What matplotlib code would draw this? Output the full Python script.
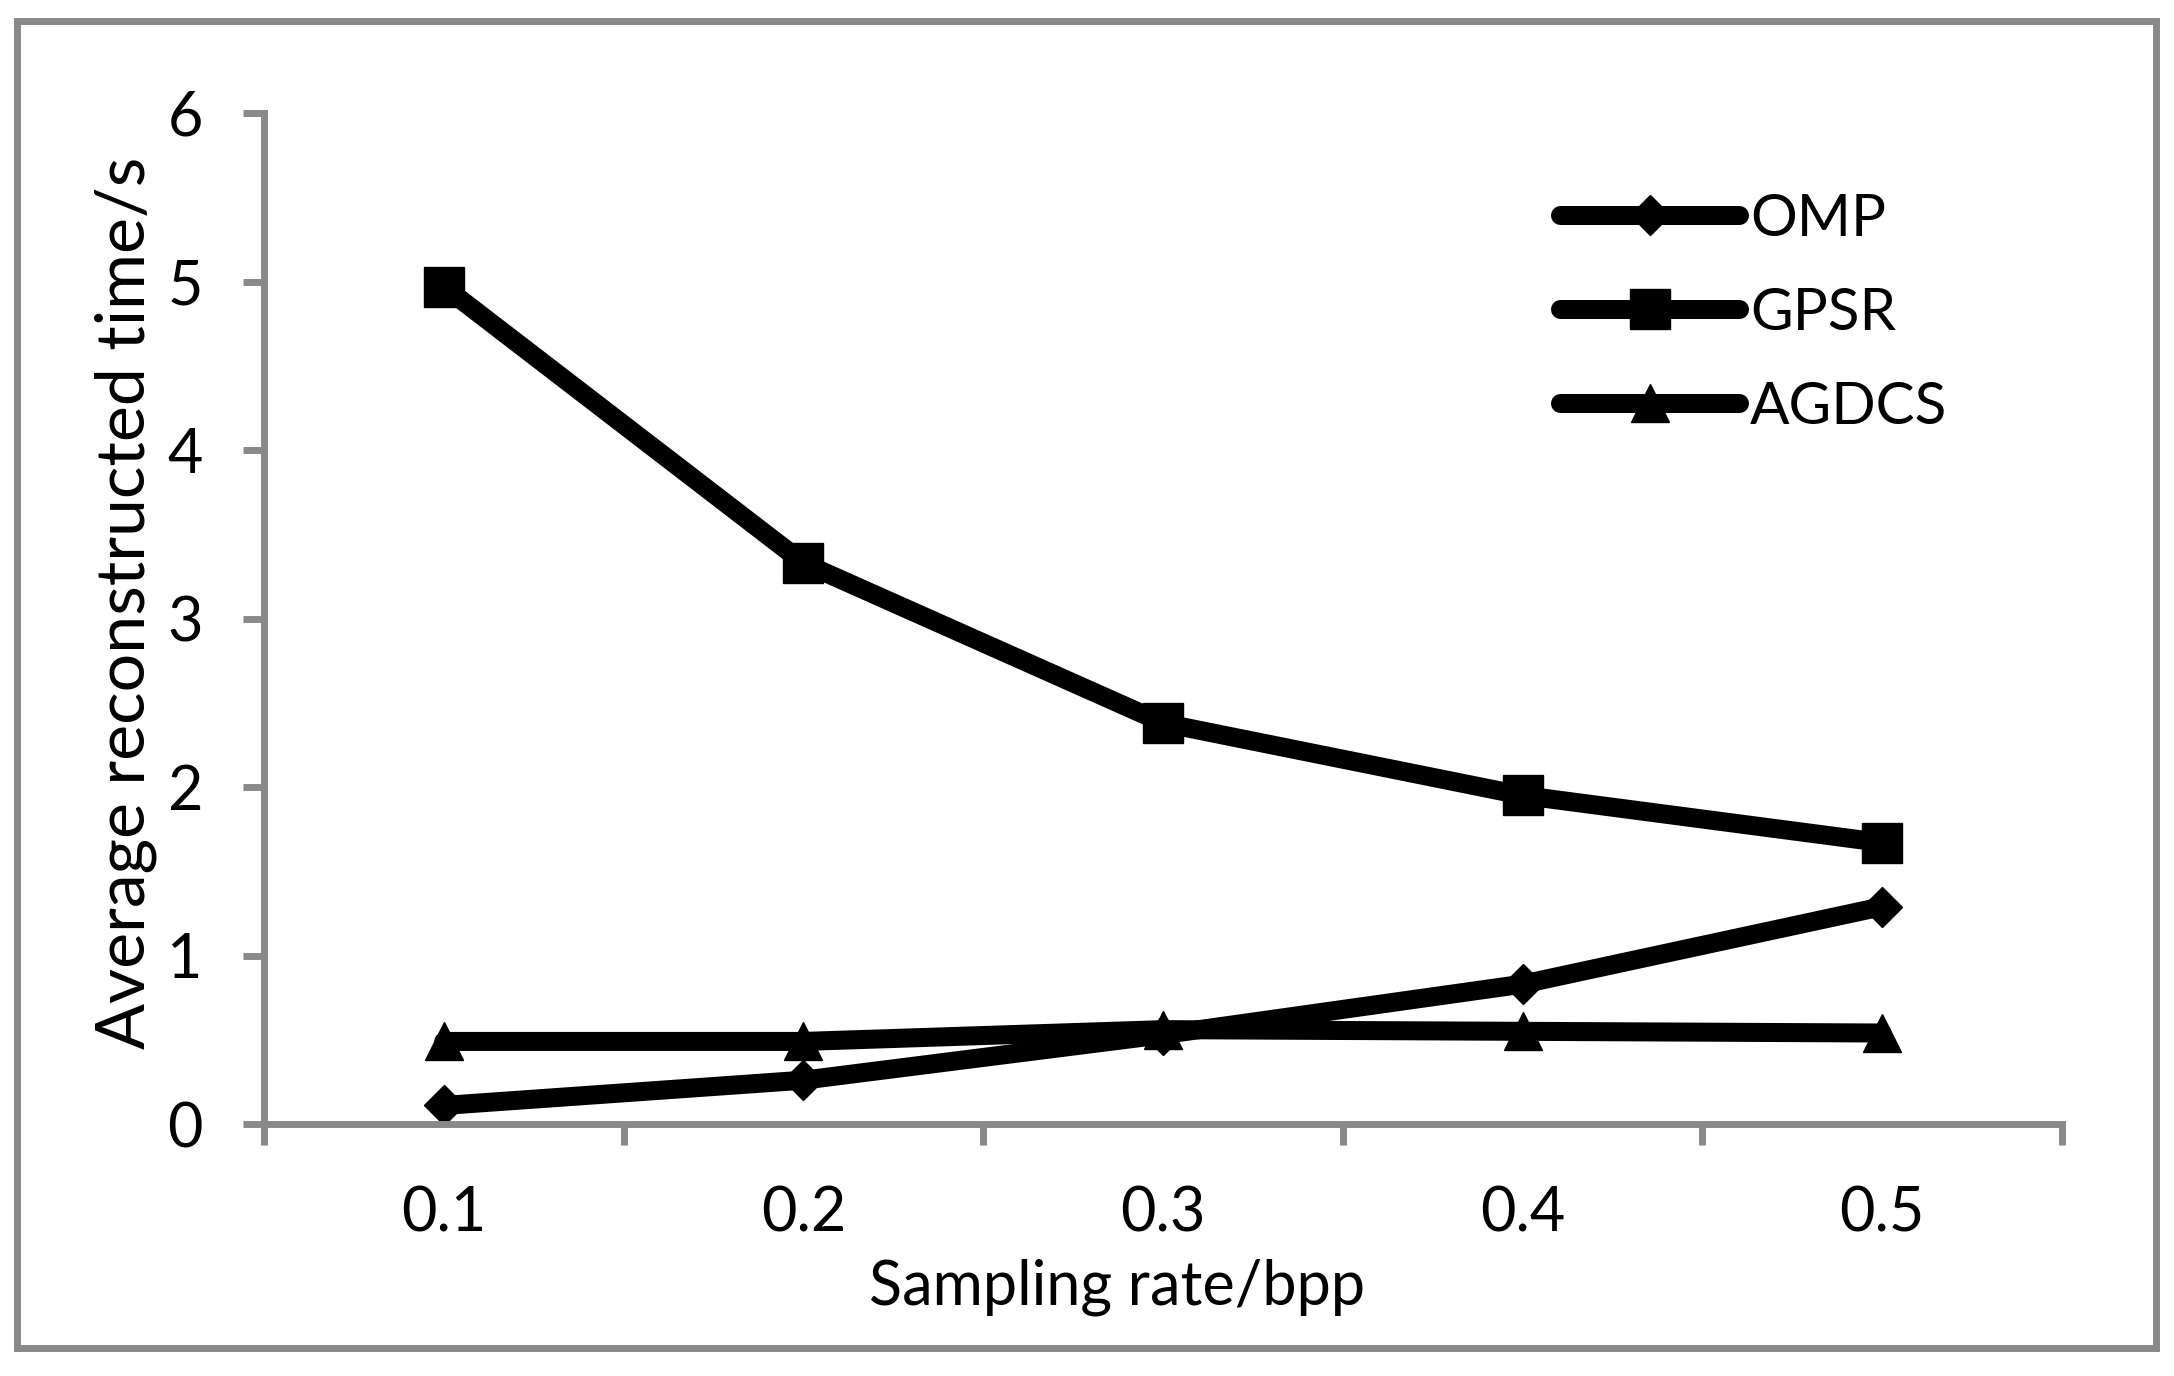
import matplotlib.pyplot as plt
from matplotlib.patches import Rectangle

plt.rcParams['font.family'] = ['Lato', 'DejaVu Sans']

# data
categories = ['0.1', '0.2', '0.3', '0.4', '0.5']
omp = [0.11, 0.26, 0.53, 0.83, 1.29]
gpsr = [4.97, 3.33, 2.38, 1.95, 1.67]
agdcs = [0.49, 0.49, 0.56, 0.55, 0.54]
y_ticks = [0, 1, 2, 3, 4, 5, 6]

gray = '#898989'
fs = 44

fig = plt.figure(figsize=(21.74, 13.76), dpi=100)
ax = fig.add_axes([264 / 2174, 1 - 1124 / 1376, (2062 - 264) / 2174, (1124 - 113) / 1376])

x = list(range(len(categories)))
style = dict(color='black', lw=13.7, solid_capstyle='round', solid_joinstyle='round')
ax.plot(x, omp, marker='D', ms=20, label='OMP', **style)
ax.plot(x, gpsr, marker='s', ms=29.5, label='GPSR', **style)
ax.plot(x, agdcs, marker='^', ms=28, label='AGDCS', **style)

ax.set_xlim(-0.5, len(categories) - 0.5)
ax.set_ylim(0, 6)

# category axis: ticks between categories, labels in the middle
ax.set_xticks([i - 0.5 for i in range(len(categories) + 1)])
ax.set_xticklabels([])
ax.set_xticks(x, minor=True)
ax.set_xticklabels(categories, minor=True, fontsize=fs)
ax.tick_params(axis='x', which='major', direction='out', length=15, width=5, color=gray)
ax.tick_params(axis='x', which='minor', length=0, pad=44)

ax.set_yticks(y_ticks)
ax.set_yticklabels([str(v) for v in y_ticks], fontsize=fs)
ax.tick_params(axis='y', direction='out', length=15, width=5, color=gray, pad=29)

for side in ['top', 'right']:
    ax.spines[side].set_visible(False)
for side in ['left', 'bottom']:
    ax.spines[side].set_color(gray)
    ax.spines[side].set_linewidth(5)

ax.text(0.4744, -0.179, 'Sampling rate/bpp', transform=ax.transAxes,
        ha='center', va='baseline', fontsize=fs)
ax.text(-0.0768, 0.515, 'Average reconstructed time/s', transform=ax.transAxes,
        ha='center', va='center', rotation=90, fontsize=49)

ax.legend(loc='upper left', bbox_to_anchor=(0.7208, 0.921), frameon=False,
          fontsize=42, handlelength=3.07, handletextpad=0.19, labelspacing=0.70,
          borderpad=0, borderaxespad=0)

fig.patches.append(Rectangle((17 / 2174, 1 - 1348 / 1376), (2156 - 17) / 2174, (1348 - 21) / 1376,
                             transform=fig.transFigure, fill=False, edgecolor=gray, lw=5))

fig.savefig('out.png', dpi=100)
